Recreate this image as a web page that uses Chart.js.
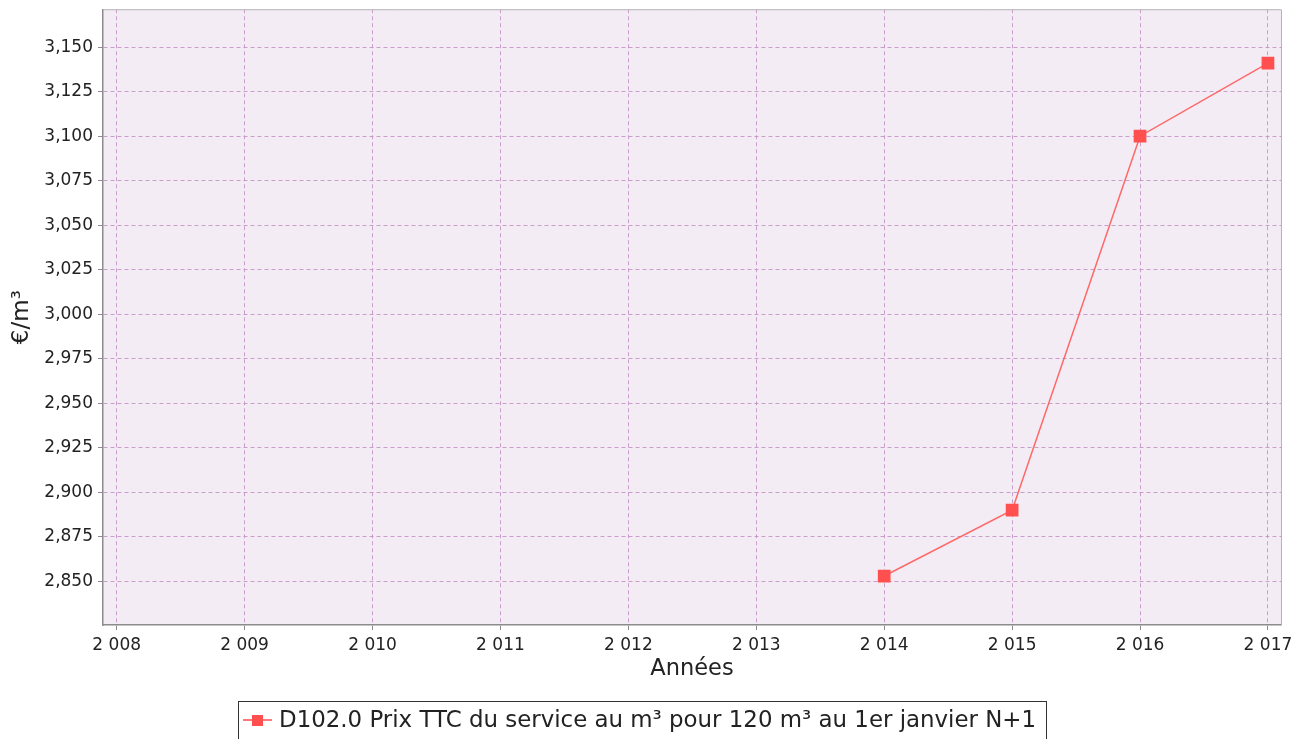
<!DOCTYPE html>
<html>
<head>
<meta charset="utf-8">
<script src="https://cdn.jsdelivr.net/npm/chart.js@4/dist/chart.umd.min.js"></script>
<style>
html,body{margin:0;padding:0;background:#fff;}
#wrap{width:1307px;height:739px;position:relative;}
</style>
</head>
<body>
<div id="wrap"><canvas id="c" width="1307" height="739"></canvas></div>
<script>
const years = [2014, 2015, 2016, 2017];
const prices = [2.853, 2.890, 3.100, 3.141];
const xTickValues = [2008, 2009, 2010, 2011, 2012, 2013, 2014, 2015, 2016, 2017];
const yTickValues = [2.850, 2.875, 2.900, 2.925, 2.950, 2.975, 3.000, 3.025, 3.050, 3.075, 3.100, 3.125, 3.150];
const seriesLabel = 'D102.0 Prix TTC du service au m³ pour 120 m³ au 1er janvier N+1';
const xTitle = 'Années';
const yTitle = '€/m³';

const FONT = '"DejaVu Sans", sans-serif';
const gridColor = 'rgba(196,150,198,0.9)';
const axisGray = '#8c8c8c';
const red = '#ff4f4f';

const bgPlugin = {
  id: 'bg',
  beforeDraw(chart) {
    const {ctx, chartArea: a} = chart;
    ctx.save();
    ctx.fillStyle = '#f3ecf4';
    ctx.fillRect(a.left, a.top, a.right - a.left, a.bottom - a.top);
    ctx.restore();
  },
  afterDraw(chart) {
    const {ctx, chartArea: a} = chart;
    ctx.save();
    ctx.strokeStyle = '#b4b4b4';
    ctx.lineWidth = 1;
    ctx.beginPath();
    ctx.moveTo(a.left, a.top + 0.5);
    ctx.lineTo(a.right + 0.5, a.top + 0.5);
    ctx.lineTo(a.right + 0.5, a.bottom);
    ctx.stroke();
    // legend
    const lx = 238.5, ly = 701.5, lw = 808, lh = 40;
    ctx.strokeStyle = '#333';
    ctx.strokeRect(lx, ly, lw, lh);
    const my = 720;
    ctx.strokeStyle = red;
    ctx.lineWidth = 1.5;
    ctx.beginPath();
    ctx.moveTo(243, my); ctx.lineTo(272, my); ctx.stroke();
    ctx.fillStyle = red;
    ctx.fillRect(252, my - 5, 11, 11);
    ctx.fillStyle = '#222';
    ctx.font = '22.9px ' + FONT;
    ctx.textBaseline = 'middle';
    ctx.textAlign = 'left';
    ctx.fillText(seriesLabel, 279, my + 1);
    ctx.restore();
  }
};

new Chart(document.getElementById('c'), {
  type: 'line',
  data: {
    datasets: [{
      label: seriesLabel,
      data: years.map((y, i) => ({x: y, y: prices[i]})),
      borderColor: 'rgba(255,90,90,0.9)',
      borderWidth: 1.5,
      backgroundColor: red,
      pointStyle: 'rect',
      pointRadius: 9,
      pointBorderWidth: 0,
      pointBackgroundColor: red,
      tension: 0
    }]
  },
  options: {
    responsive: false,
    animation: false,
    devicePixelRatio: 1,
    layout: {padding: {left: 0, top: 8, right: 26, bottom: 54}},
    plugins: {legend: {display: false}, tooltip: {enabled: false}},
    scales: {
      x: {
        type: 'linear',
        min: 2007.893,
        max: 2017.102,
        afterBuildTicks(scale) { scale.ticks = xTickValues.map(v => ({value: v})); },
        afterFit(scale) { scale.height = 60; },
        ticks: {
          font: {family: FONT, size: 17},
          color: '#222',
          padding: 5,
          maxRotation: 0,
          autoSkip: false,
          callback: v => String(v).replace(/^(\d)(\d{3})$/, '$1 $2')
        },
        grid: {
          color: gridColor,
          lineWidth: 1,
          drawTicks: true,
          tickLength: 5,
          tickColor: axisGray,
          tickBorderDash: [],
          tickWidth: 1
        },
        border: {display: true, color: axisGray, width: 1.5, dash: [4, 3]},
        title: {display: true, text: xTitle, font: {family: FONT, size: 22.5}, color: '#222', padding: {top: 2, bottom: 2}}
      },
      y: {
        type: 'linear',
        min: 2.8255,
        max: 3.1713,
        afterBuildTicks(scale) { scale.ticks = yTickValues.map(v => ({value: v})); },
        afterFit(scale) { scale.width = 103; },
        ticks: {
          font: {family: FONT, size: 17, lineHeight: 0.5},
          color: '#222',
          padding: 5,
          callback: v => v.toFixed(3).replace('.', ',')
        },
        grid: {
          color: gridColor,
          lineWidth: 1,
          drawTicks: true,
          tickLength: 5,
          tickColor: axisGray,
          tickBorderDash: [],
          tickWidth: 1
        },
        border: {display: true, color: axisGray, width: 1.5, dash: [4, 3]},
        title: {display: true, text: yTitle, font: {family: FONT, size: 23}, color: '#222', padding: {top: 8, bottom: 2}}
      }
    }
  },
  plugins: [bgPlugin]
});
</script>
</body>
</html>
